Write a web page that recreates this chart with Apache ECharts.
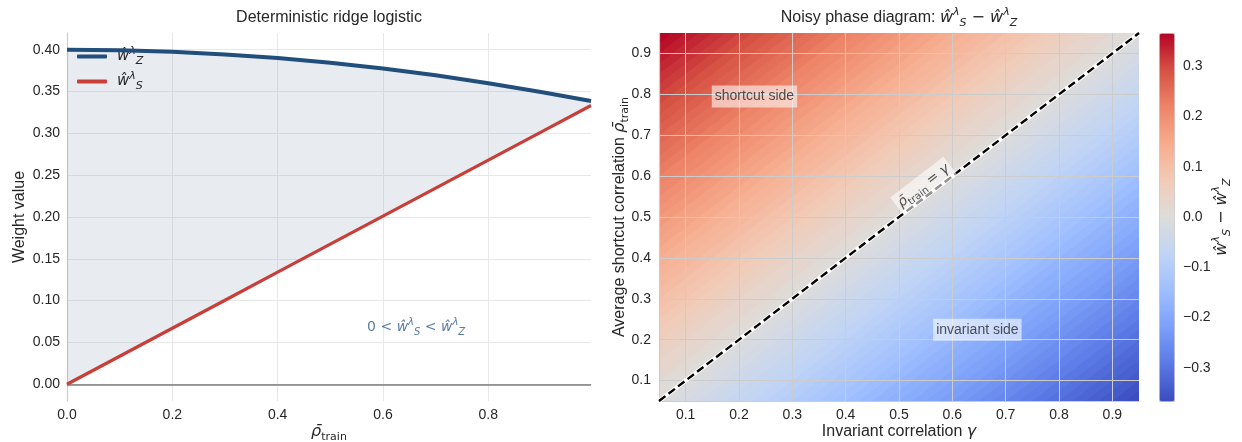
<!DOCTYPE html>
<html><head><meta charset="utf-8">
<script src="https://cdn.jsdelivr.net/npm/echarts@6/dist/echarts.min.js"></script>
<style>html,body{margin:0;padding:0;background:#fff}#c{width:1242px;height:442px}</style>
</head><body><div id="c"></div>
<script>
// ---------- data: left panel ----------
const rhoGrid = [0, 0.1, 0.2, 0.3, 0.4, 0.5, 0.6, 0.7, 0.8, 0.9, 0.995];
const wZ = [0.4000, 0.3994, 0.3975, 0.3944, 0.3900, 0.3844, 0.3775, 0.3694, 0.3600, 0.3494, 0.3386];
const wS = [0.0000, 0.0335, 0.0670, 0.1005, 0.1340, 0.1675, 0.2010, 0.2345, 0.2680, 0.3015, 0.3333];
const leftXRange = [0, 0.995];
const leftYRange = [-0.02, 0.42];
const leftXTicks = [0, 0.2, 0.4, 0.6, 0.8];
const leftYTicks = [0, 0.05, 0.10, 0.15, 0.20, 0.25, 0.30, 0.35, 0.40];

// ---------- data: right panel (value is constant along diagonals rho - gamma) ----------
const gammaRange = [0.05, 0.95];
const rhoRange = [0.05, 0.95];
const gammaTicks = [0.1, 0.2, 0.3, 0.4, 0.5, 0.6, 0.7, 0.8, 0.9];
const rhoTicks = [0.1, 0.2, 0.3, 0.4, 0.5, 0.6, 0.7, 0.8, 0.9];
const diagBandWidth = 0.025;
const diagOffsets = [-0.8875,-0.8625,-0.8375,-0.8125,-0.7875,-0.7625,-0.7375,-0.7125,-0.6875,-0.6625,-0.6375,-0.6125,
  -0.5875,-0.5625,-0.5375,-0.5125,-0.4875,-0.4625,-0.4375,-0.4125,-0.3875,-0.3625,-0.3375,-0.3125,
  -0.2875,-0.2625,-0.2375,-0.2125,-0.1875,-0.1625,-0.1375,-0.1125,-0.0875,-0.0625,-0.0375,-0.0125,
  0.0125,0.0375,0.0625,0.0875,0.1125,0.1375,0.1625,0.1875,0.2125,0.2375,0.2625,0.2875,
  0.3125,0.3375,0.3625,0.3875,0.4125,0.4375,0.4625,0.4875,0.5125,0.5375,0.5625,0.5875,
  0.6125,0.6375,0.6625,0.6875,0.7125,0.7375,0.7625,0.7875,0.8125,0.8375,0.8625,0.8875];
const diagValues = [-0.364,-0.354,-0.343,-0.333,-0.323,-0.313,-0.302,-0.292,-0.282,-0.272,-0.261,-0.251,
  -0.241,-0.231,-0.220,-0.210,-0.200,-0.190,-0.179,-0.169,-0.159,-0.149,-0.138,-0.128,
  -0.118,-0.108,-0.097,-0.087,-0.077,-0.067,-0.056,-0.046,-0.036,-0.026,-0.015,-0.005,
  0.005,0.015,0.026,0.036,0.046,0.056,0.067,0.077,0.087,0.097,0.108,0.118,
  0.128,0.138,0.149,0.159,0.169,0.179,0.190,0.200,0.210,0.220,0.231,0.241,
  0.251,0.261,0.272,0.282,0.292,0.302,0.313,0.323,0.333,0.343,0.354,0.364];
const cbarRange = [-0.366, 0.366];
const cbarTicks = [-0.3, -0.2, -0.1, 0, 0.1, 0.2, 0.3];
const coolwarm = ['#3b4cc0','#5a78e4','#7b9ff9','#9ebeff','#c0d4f5','#dddcdc','#f2cbb7','#f7ac8e','#ee8468','#d65244','#b40426'];

// ---------- styles ----------
const FONT = "'Liberation Sans', Arial, sans-serif";
const MATH = "'DejaVu Sans', sans-serif";
const TXT = '#262626';
const BLUE = '#224e7c';
const RED = '#c83f39';

function rich(size, color) {
  color = color || TXT;
  const s = Math.round(size * 0.7);
  const lh = Math.round(size * 1.4);
  return {
    t: {fontFamily: FONT, fontSize: size, color: color, lineHeight: lh},
    m: {fontFamily: MATH, fontStyle: 'italic', fontSize: size, color: color, lineHeight: lh},
    m0: {fontFamily: MATH, fontStyle: 'italic', fontSize: size, color: color, lineHeight: lh, padding: [0, 0, 0, 5]},
    r: {fontFamily: MATH, fontSize: size, color: color, lineHeight: lh},
    sub: {fontFamily: MATH, fontStyle: 'italic', fontSize: s, color: color, lineHeight: s, verticalAlign: 'bottom'},
    subr: {fontFamily: MATH, fontSize: s, color: color, lineHeight: s, verticalAlign: 'bottom'},
    sup: {fontFamily: MATH, fontStyle: 'italic', fontSize: s, color: color, lineHeight: s, verticalAlign: 'top'}
  };
}
const W_Z = '{m|ŵ}{sup|λ}{sub|Z}';
const W_S = '{m|ŵ}{sup|λ}{sub|S}';
const RHO = '{m|ρ\u0304}{subr|train}';

function textEl(x, y, text, size, rot) {
  return {type: 'text', x: x, y: y, rotation: rot || 0, z: 100,
    style: {text: text, fill: TXT, fontFamily: FONT, fontSize: size, align: 'center', verticalAlign: 'middle', rich: rich(size)}};
}

function clipHalf(poly, f) {
  const out = [];
  for (let i = 0; i < poly.length; i++) {
    const a = poly[i], b = poly[(i + 1) % poly.length];
    const fa = f(a), fb = f(b);
    if (fa >= 0) out.push(a);
    if ((fa >= 0) !== (fb >= 0)) {
      const t = fa / (fa - fb);
      out.push([a[0] + t * (b[0] - a[0]), a[1] + t * (b[1] - a[1])]);
    }
  }
  return out;
}

const bandData = diagOffsets.map((c, i) => [c - diagBandWidth / 2, c + diagBandWidth / 2, diagValues[i]]);
const BAND_OVERLAP = 0.006;

const axisLabelBase = {fontFamily: FONT, fontSize: 14, color: TXT};

const chart = echarts.init(document.getElementById('c'));
chart.setOption({
  animation: false,
  backgroundColor: '#ffffff',
  grid: [
    {left: 67, top: 33, width: 524, height: 368},
    {left: 659, top: 33, width: 480, height: 368},
    {left: 1159, top: 33, width: 15, height: 368}
  ],
  xAxis: [
    {gridIndex: 0, type: 'value', min: leftXRange[0], max: leftXRange[1],
      axisLine: {lineStyle: {color: '#cccccc', width: 1.2}}, axisTick: {show: false, customValues: leftXTicks},
      axisLabel: Object.assign({customValues: leftXTicks, margin: 7, formatter: v => v.toFixed(1)}, axisLabelBase),
      splitLine: {show: true, lineStyle: {color: '#e8e8e8', width: 1}}},
    {gridIndex: 1, type: 'value', min: gammaRange[0], max: gammaRange[1], z: 10,
      axisLine: {lineStyle: {color: '#cccccc', width: 1.2}}, axisTick: {show: false, customValues: gammaTicks},
      axisLabel: Object.assign({customValues: gammaTicks, margin: 7, formatter: v => v.toFixed(1)}, axisLabelBase),
      splitLine: {show: true, lineStyle: {color: '#cccccc', width: 1}}},
    {gridIndex: 2, type: 'value', min: 0, max: 1, show: false}
  ],
  yAxis: [
    {gridIndex: 0, type: 'value', min: leftYRange[0], max: leftYRange[1],
      axisLine: {show: true, lineStyle: {color: '#cccccc', width: 1.2}}, axisTick: {show: false, customValues: leftYTicks},
      axisLabel: Object.assign({customValues: leftYTicks, margin: 7, formatter: v => v.toFixed(2)}, axisLabelBase),
      splitLine: {show: true, lineStyle: {color: '#e8e8e8', width: 1}}},
    {gridIndex: 1, type: 'value', min: rhoRange[0], max: rhoRange[1], z: 10,
      axisLine: {show: true, lineStyle: {color: '#cccccc', width: 1.2}}, axisTick: {show: false, customValues: rhoTicks},
      axisLabel: Object.assign({customValues: rhoTicks, margin: 8, formatter: v => v.toFixed(1)}, axisLabelBase),
      splitLine: {show: true, lineStyle: {color: '#cccccc', width: 1}}},
    {gridIndex: 2, type: 'value', min: cbarRange[0], max: cbarRange[1], position: 'right',
      axisLine: {show: false}, axisTick: {show: false, customValues: cbarTicks}, splitLine: {show: false},
      axisLabel: Object.assign({customValues: cbarTicks, margin: 9,
        formatter: v => (v < 0 ? '\u2212' : '') + Math.abs(v).toFixed(1)}, axisLabelBase)}
  ],
  visualMap: {
    type: 'continuous', min: cbarRange[0], max: cbarRange[1], dimension: 2, seriesIndex: 4,
    left: 1159, top: 33, itemWidth: 15, itemHeight: 368, calculable: false, hoverLink: false,
    padding: 0, borderColor: '#cccccc', borderWidth: 1, text: null,
    inRange: {color: coolwarm}
  },
  legend: {
    left: 77, top: 46, padding: 0, orient: 'vertical', itemWidth: 30, itemHeight: 4, itemGap: 4,
    data: [{name: 'wZ', icon: 'roundRect'}, {name: 'wS', icon: 'roundRect'}],
    formatter: n => n === 'wZ' ? '{m0|ŵ}{sup|λ}{sub|Z}' : '{m0|ŵ}{sup|λ}{sub|S}',
    textStyle: {color: TXT, fontSize: 15, rich: rich(15)}
  },
  graphic: [
    textEl(329, 18, '{t|Deterministic ridge logistic}', 16),
    textEl(899, 18, '{t|Noisy phase diagram: }' + W_S + '{r| − }' + W_Z, 16),
    textEl(20, 217, '{t|Weight value}', 16, Math.PI / 2),
    textEl(329, 432, RHO, 16),
    textEl(620, 217, '{t|Average shortcut correlation }' + RHO, 16, Math.PI / 2),
    textEl(899, 432, '{t|Invariant correlation }{m|γ}', 16),
    textEl(1222, 217, W_S + '{r| − }' + W_Z, 16, Math.PI / 2)
  ],
  series: [
    // 0: shaded region between the two weight curves
    {type: 'custom', xAxisIndex: 0, yAxisIndex: 0, silent: true, z: 1,
      data: rhoGrid.map((x, i) => [x, wS[i], wZ[i]]), encode: {x: 0, y: 2},
      renderItem: function (params, api) {
        if (params.dataIndex !== 0) return null;
        const top = rhoGrid.map((x, i) => api.coord([x, wZ[i]]));
        const bot = rhoGrid.map((x, i) => api.coord([x, wS[i]])).reverse();
        return {type: 'polygon', shape: {points: top.concat(bot)},
          style: {fill: 'rgba(120,140,170,0.17)'}};
      }},
    // 1, 2: curves
    {name: 'wZ', type: 'line', xAxisIndex: 0, yAxisIndex: 0, showSymbol: false,
      color: BLUE, lineStyle: {color: BLUE, width: 4}, data: rhoGrid.map((x, i) => [x, wZ[i]]), z: 4},
    {name: 'wS', type: 'line', xAxisIndex: 0, yAxisIndex: 0, showSymbol: false,
      color: RED, lineStyle: {color: RED, width: 3.2}, data: rhoGrid.map((x, i) => [x, wS[i]]), z: 5,
      markLine: {silent: true, symbol: ['none', 'none'], label: {show: false}, z: 3,
        lineStyle: {color: '#808080', width: 1.6, type: 'solid'}, data: [{yAxis: 0}]}},
    // 3: left annotation
    {type: 'scatter', xAxisIndex: 0, yAxisIndex: 0, symbolSize: 1, itemStyle: {color: 'rgba(0,0,0,0)'}, silent: true, z: 6,
      data: [[0.663, 0.068]],
      label: {show: true, position: 'inside', formatter: '{r|0 < }' + W_S + '{r| < }' + W_Z, rich: rich(14, '#2e5b8c')}},
    // 4: phase diagram bands
    {type: 'custom', xAxisIndex: 1, yAxisIndex: 1, silent: true, z: 2, data: bandData,
      encode: {x: 0, y: 1},
      renderItem: function (params, api) {
        const lo = api.value(0), hi = api.value(1) + BAND_OVERLAP;
        let poly = [[gammaRange[0], rhoRange[0]], [gammaRange[1], rhoRange[0]], [gammaRange[1], rhoRange[1]], [gammaRange[0], rhoRange[1]]];
        poly = clipHalf(poly, p => (p[1] - p[0]) - lo);
        poly = clipHalf(poly, p => hi - (p[1] - p[0]));
        if (poly.length < 3) return null;
        return {type: 'polygon', shape: {points: poly.map(p => api.coord(p))},
          style: {fill: api.visual('color')}};
      }},
    // 5, 6: diagonal rho = gamma
    {type: 'line', xAxisIndex: 1, yAxisIndex: 1, showSymbol: false, silent: true, z: 20,
      lineStyle: {color: '#ffffff', width: 4.5},
      data: [[gammaRange[0], rhoRange[0]], [gammaRange[1], rhoRange[1]]]},
    {type: 'line', xAxisIndex: 1, yAxisIndex: 1, showSymbol: false, silent: true, z: 21,
      lineStyle: {color: '#000000', width: 2.4, type: [8, 4]},
      data: [[gammaRange[0], rhoRange[0]], [gammaRange[1], rhoRange[1]]]},
    // 7: right annotations
    {type: 'scatter', xAxisIndex: 1, yAxisIndex: 1, symbolSize: 1, itemStyle: {color: 'rgba(0,0,0,0)'}, silent: true, z: 30,
      data: [
        {value: [0.229, 0.795], label: {formatter: '{t|shortcut side}'}},
        {value: [0.647, 0.224], label: {formatter: '{t|invariant side}'}},
        {value: [0.546, 0.576], label: {formatter: RHO + '{r| = }{m|γ}', rotate: 37.5}}
      ],
      label: {show: true, position: 'inside', backgroundColor: 'rgba(255,255,255,0.72)', padding: [1, 3],
        rich: rich(14)}}
  ]
});
</script></body></html>
